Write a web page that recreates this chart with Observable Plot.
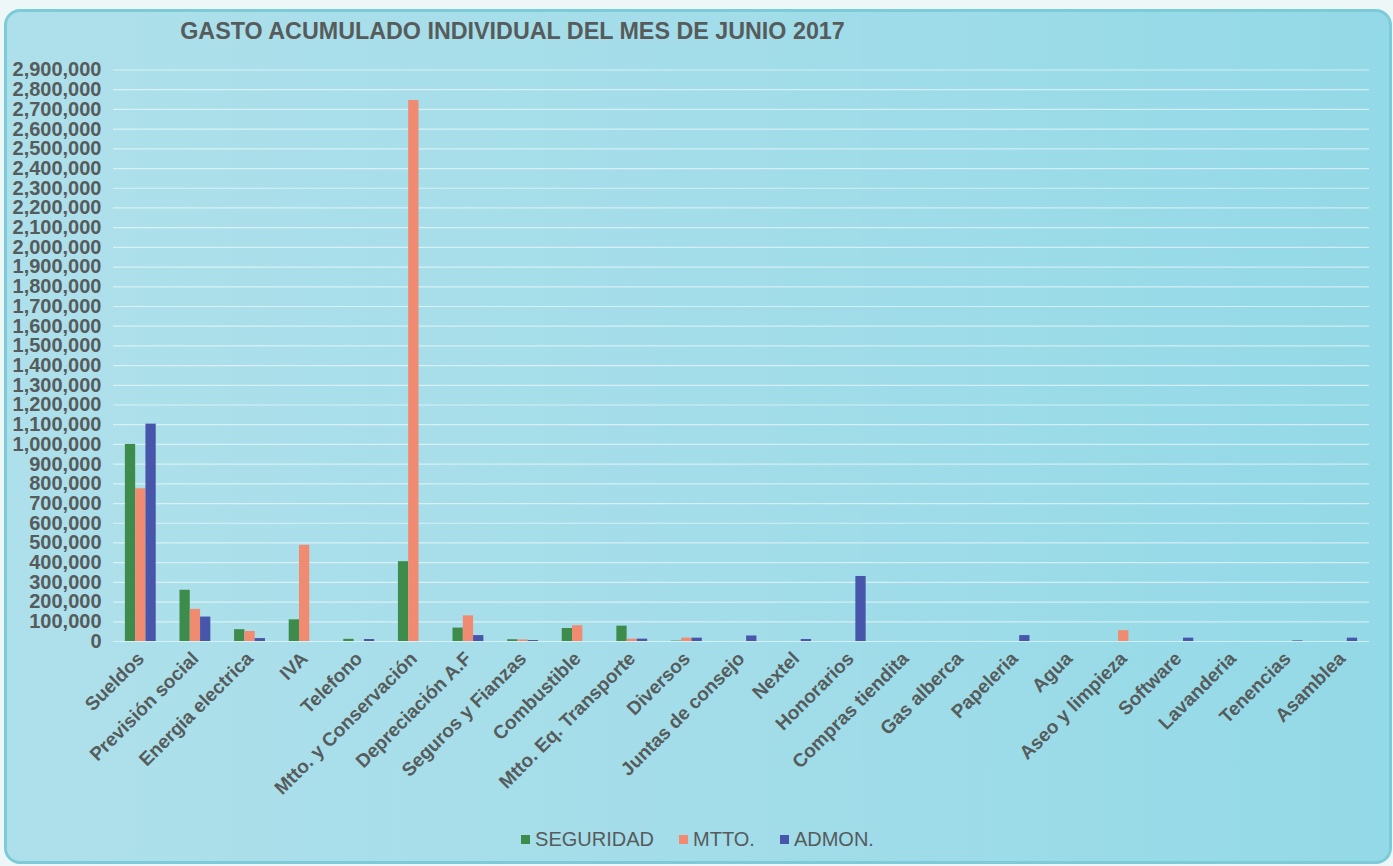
<!DOCTYPE html>
<html>
<head>
<meta charset="utf-8">
<script src="https://cdn.jsdelivr.net/npm/d3@7"></script>
<script src="https://cdn.jsdelivr.net/npm/@observablehq/plot@0.6"></script>
<style>
  html, body { margin: 0; padding: 0; }
  body { width: 1393px; height: 866px; background: #eef7f8; position: relative; overflow: hidden; font-family: "Liberation Sans", Arial, sans-serif; }
  #card { position: absolute; left: 4px; top: 9px; width: 1382px; height: 849px; border-radius: 16px; border: 3px solid #7ccbd9;
          background: linear-gradient(90deg, #aee0eb 0%, #a3dde9 50%, #94d9e7 100%); }
  #title { position: absolute; left: 0; width: 1025px; top: 18px; text-align: center; font: bold 23.3px "Liberation Sans", Arial, sans-serif; color: #565b5c; }
  #chart { position: absolute; left: 0; top: 55px; }
  #legend { position: absolute; top: 828px; left: 0; width: 1393px; display: flex; justify-content: center; gap: 25px; font: 20px "Liberation Sans", Arial, sans-serif; color: #565b5c; padding-left: 1px; }
  #legend span.item { display: flex; align-items: center; }
  #legend span.sw { display: inline-block; width: 9px; height: 9px; margin-right: 5px; }
</style>
</head>
<body>
<div id="card"></div>
<div id="title">GASTO ACUMULADO INDIVIDUAL DEL MES DE JUNIO 2017</div>
<div id="chart"></div>
<div id="legend"></div>
<script>
const categories = ["Sueldos", "Previsión social", "Energia electrica", "IVA", "Telefono", "Mtto. y Conservación",
  "Depreciación A.F", "Seguros y Fianzas", "Combustible", "Mtto. Eq. Transporte", "Diversos", "Juntas de consejo",
  "Nextel", "Honorarios", "Compras tiendita", "Gas alberca", "Papeleria", "Agua", "Aseo y limpieza", "Software",
  "Lavanderia", "Tenencias", "Asamblea"];
const series = ["SEGURIDAD", "MTTO.", "ADMON."];
const seguridad = [1000000, 260000, 60000, 110000, 11000, 405000, 68000, 9000, 66000, 78000, 2000, 0,
  0, 0, 0, 0, 0, 0, 0, 0, 0, 0, 0];
const mtto = [775000, 163000, 51000, 488000, 0, 2745000, 130000, 8000, 80000, 12000, 17000, 0,
  0, 0, 0, 0, 0, 0, 55000, 0, 0, 0, 0];
const admon = [1103000, 124000, 15000, 0, 10000, 0, 30000, 5000, 0, 12000, 17000, 28000,
  10000, 330000, 0, 0, 30000, 0, 0, 17000, 0, 3000, 17000];
const yTicks = d3.range(0, 2900001, 100000);
const colors = ["#3d8c4c", "#f08b72", "#4756ab"];

const valuesBySeries = [seguridad, mtto, admon];
const data = [];
categories.forEach((c, i) => series.forEach((s, j) => data.push({cat: c, serie: s, value: valuesBySeries[j][i]})));

const textColor = "#565b5c";
const chart = Plot.plot({
  width: 1393,
  height: 760,
  marginTop: 14.5,
  marginBottom: 174,
  marginLeft: 113,
  marginRight: 24,
  style: {background: "transparent", fontFamily: "'Liberation Sans', Arial, sans-serif", color: textColor},
  fx: {domain: categories, padding: 0, round: false, label: null},
  x: {domain: series, paddingInner: 0, paddingOuter: 1.155, round: false, axis: null},
  y: {domain: [0, 2900000], label: null},
  color: {domain: series, range: colors},
  marks: [
    Plot.gridY(yTicks, {stroke: "#ffffff", strokeOpacity: 0.55, strokeWidth: 1.2}),
    Plot.barY(data, {fx: "cat", x: "serie", y: "value", fill: "serie"}),
    Plot.axisY(yTicks, {tickSize: 0, tickPadding: 12, tickFormat: d3.format(","), fontSize: 20, fontWeight: "bold", fill: textColor, label: null}),
    Plot.axisFx({anchor: "bottom", tickRotate: -45, tickSize: 0, tickPadding: 14, fontSize: 19, fontWeight: "bold", fill: textColor, label: null})
  ]
});
document.getElementById("chart").appendChild(chart);

const legend = document.getElementById("legend");
series.forEach((s, j) => {
  const item = document.createElement("span");
  item.className = "item";
  const sw = document.createElement("span");
  sw.className = "sw";
  sw.style.background = colors[j];
  item.appendChild(sw);
  item.appendChild(document.createTextNode(s));
  legend.appendChild(item);
});
</script>
</body>
</html>
